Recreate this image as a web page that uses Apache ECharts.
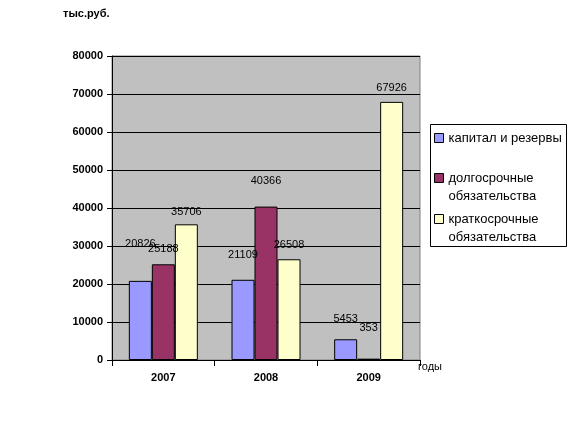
<!DOCTYPE html>
<html><head><meta charset="utf-8">
<script src="https://cdn.jsdelivr.net/npm/echarts@6/dist/echarts.min.js"></script>
<style>html,body{margin:0;padding:0;background:#fff}#c{width:576px;height:433px}</style>
</head><body><div id="c"></div>
<script>
var categories = ['2007', '2008', '2009'];
var seriesNames = ['капитал и резервы', 'долгосрочные\nобязательства', 'краткосрочные\nобязательства'];
var capital = [20826, 21109, 5453];
var longTerm = [25188, 40366, 353];
var shortTerm = [35706, 26508, 67926];
var yTicks = [0, 10000, 20000, 30000, 40000, 50000, 60000, 70000, 80000];

// label lift above bar top (style only)
var labelLift = [[38, 26, 22], [17, 27, 32], [14, 16, 15]];
var colors = ['#9999FF', '#993366', '#FFFFCC'];
var values = [capital, longTerm, shortTerm];

var chart = echarts.init(document.getElementById('c'), null, {renderer: 'canvas'});
var font = 'Liberation Sans, Arial, sans-serif';

var series = values.map(function (arr, si) {
  return {
    name: seriesNames[si],
    type: 'bar',
    barWidth: 23,
    barGap: '0%',
    itemStyle: {color: colors[si], borderColor: '#000', borderWidth: 1},
    label: {show: true, position: 'top', color: '#000', fontFamily: font, fontSize: 11},
    data: arr.map(function (v, i) {
      return {value: v, label: {distance: labelLift[si][i] - 7}};
    })
  };
});

function legendFor(i, top, multi) {
  return {
    data: [seriesNames[i]],
    orient: 'vertical',
    left: 434,
    top: top,
    padding: 0,
    itemWidth: 9,
    itemHeight: 9,
    itemGap: 0,
    icon: 'rect',
    itemStyle: {borderColor: '#000', borderWidth: 1},
    selectedMode: false,
    formatter: function (name) { return multi ? '\n' + name : name; },
    textStyle: {fontFamily: font, fontSize: 13, color: '#000', lineHeight: 18}
  };
}

chart.setOption({
  animation: false,
  color: colors,
  grid: {left: 112, right: 156, top: 56, bottom: 73, show: true, backgroundColor: '#C0C0C0', borderColor: '#808080', borderWidth: 1},
  xAxis: {
    type: 'category', data: categories, boundaryGap: true,
    axisLine: {show: true, lineStyle: {color: '#000', width: 1}},
    axisTick: {show: true, length: 6, lineStyle: {color: '#000'}},
    axisLabel: {color: '#000', fontFamily: font, fontSize: 11, fontWeight: 'bold', margin: 12},
    splitLine: {show: false}
  },
  yAxis: {
    type: 'value', min: yTicks[0], max: yTicks[yTicks.length - 1], interval: yTicks[1] - yTicks[0],
    axisLine: {show: true, lineStyle: {color: '#000', width: 1}},
    axisTick: {show: true, length: 5, lineStyle: {color: '#000'}},
    axisLabel: {color: '#000', fontFamily: font, fontSize: 11, fontWeight: 'bold', margin: 9,
      formatter: function (v) { return String(v); }},
    splitLine: {show: true, lineStyle: {color: '#000', width: 1}}
  },
  legend: [legendFor(0, 129, false), legendFor(1, 151, true), legendFor(2, 192, true)],
  graphic: [
    {type: 'rect', shape: {x: 430.5, y: 124.5, width: 136, height: 122}, style: {fill: '#fff', stroke: '#000', lineWidth: 1}, z: -1},
    {type: 'text', left: 63, top: 8, style: {text: 'тыс.руб.', font: 'bold 11px ' + font, fill: '#000'}},
    {type: 'text', left: 418, top: 361, style: {text: 'годы', font: '11px ' + font, fill: '#000'}}
  ],
  series: series
});
</script></body></html>
